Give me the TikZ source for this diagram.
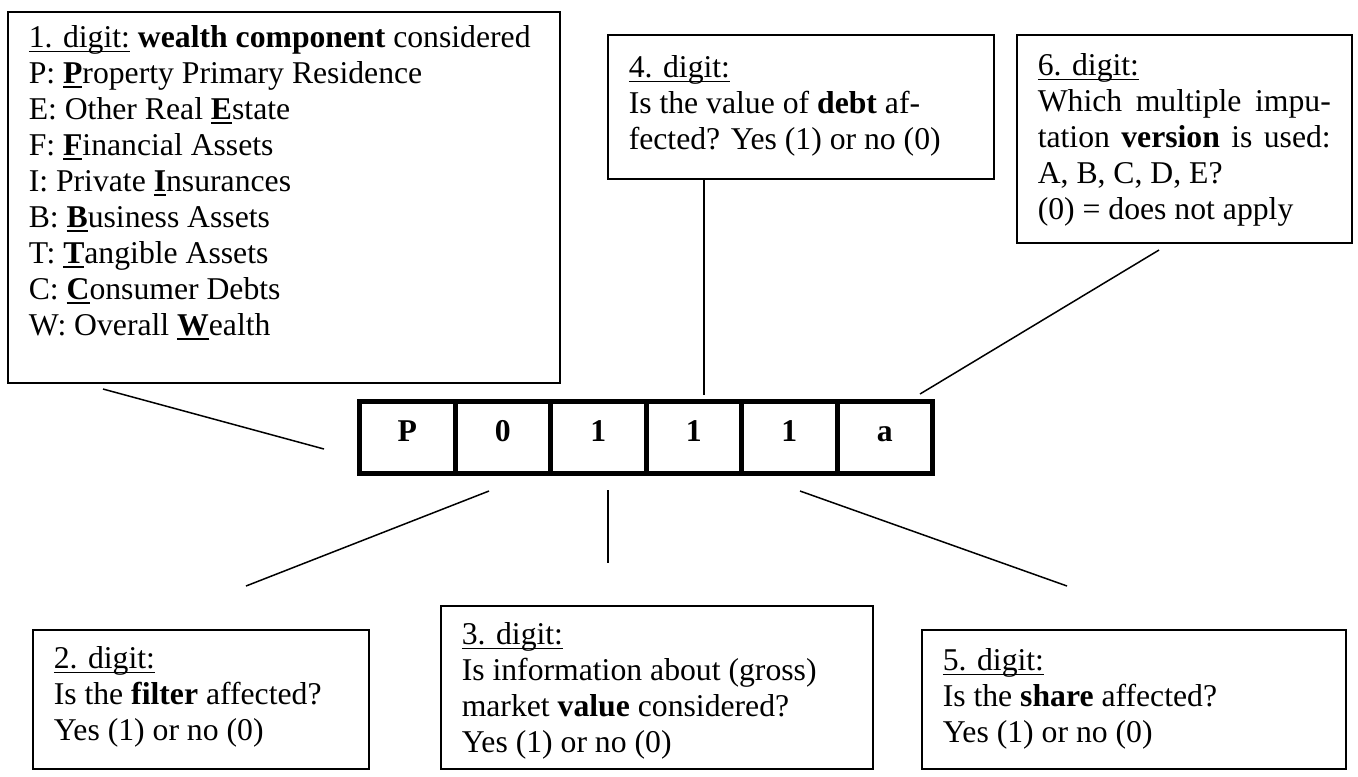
\documentclass[tikz,border=0pt]{standalone}
\usepackage{fontspec}
\setmainfont{Liberation Serif}
\usetikzlibrary{positioning}
\newlength{\unitpx}
\setlength{\unitpx}{0.4pt}
% underlined digit label and underlined key letter
\newcommand{\digitul}[1]{\setbox0\hbox{#1}\rlap{\rule[-1.6pt]{\wd0}{0.55pt}}\box0\relax}
\newcommand{\keyul}[1]{\textbf{\setbox0\hbox{#1}\rlap{\rule[-1.8pt]{\wd0}{1.1pt}}\box0\relax}}
\newcommand{\boxtext}[4][0]{\parbox[t][#3\unitpx][t]{#2\unitpx}{\vspace*{#1\unitpx}\strut#4}}

\begin{document}
\begin{tikzpicture}[
    x=0.4pt, y=-0.4pt,
    every node/.style={font=\fontsize{12.68pt}{14.4pt}\selectfont},
    digitbox/.style={draw, line width=0.6pt, anchor=north west,
      inner xsep=8.4pt, inner ysep=4pt},
    codecell/.style={draw, line width=2pt, outer sep=0pt, inner sep=0pt,
      minimum width=38.2pt, minimum height=28.8pt,
      text height=8.5pt, text depth=5.6pt,
      font=\fontsize{12.68pt}{14.4pt}\selectfont\bfseries},
    link/.style={line width=0.6pt},
  ]
  \useasboundingbox (0,0) rectangle (1358,776);

  % Upper boxes
  \node[digitbox] (d1) at (7,11) {\boxtext[1]{510}{351}{%
      \digitul{1. digit:} \textbf{wealth component} considered\\
      P: \keyul{P}roperty Primary Residence\\
      E: Other Real \keyul{E}state\\
      F: \keyul{F}inancial Assets\\
      I: Private \keyul{I}nsurances\\
      B: \keyul{B}usiness Assets\\
      T: \keyul{T}angible Assets\\
      C: \keyul{C}onsumer Debts\\
      W: Overall \keyul{W}ealth}};
  \node[digitbox] (d4) at (607,34) {\boxtext[8]{344}{124}{%
      \digitul{4. digit:}\\
      Is the value of \textbf{debt} af-\\
      fected? Yes (1) or no (0)}};
  \node[digitbox] (d6) at (1016,34) {\boxtext[6]{293}{188}{%
      \digitul{6. digit:}\\
      \makebox[\linewidth][s]{Which multiple impu-}\\
      \makebox[\linewidth][s]{tation \textbf{version} is used:}\\
      A, B, C, D, E?\\
      (0) = does not apply}};

  % Code
  \node[codecell] (c1) at (407.25,437.5) {P};
  \node[codecell, right=0pt of c1] (c2) {0};
  \node[codecell, right=0pt of c2] (c3) {1};
  \node[codecell, right=0pt of c3] (c4) {1};
  \node[codecell, right=0pt of c4] (c5) {1};
  \node[codecell, right=0pt of c5] (c6) {a};

  % Lower boxes
  \node[digitbox] (d2) at (32,629) {\boxtext[4]{294}{119}{%
      \digitul{2. digit:}\\
      Is the \textbf{filter} affected?\\
      Yes (1) or no (0)}};
  \node[digitbox] (d3) at (440,605) {\boxtext[4]{390}{143}{%
      \digitul{3. digit:}\\
      Is information about (gross)\\
      market \textbf{value} considered?\\
      Yes (1) or no (0)}};
  \node[digitbox] (d5) at (921,629) {\boxtext[6]{382}{119}{%
      \digitul{5. digit:}\\
      Is the \textbf{share} affected?\\
      Yes (1) or no (0)}};

  % Links
  \coordinate (k1a) at (103,389);
  \coordinate (k1b) at (324,449);
  \coordinate (k2a) at (489,491);
  \coordinate (k2b) at (246,586);
  \coordinate (k3a) at (608,490);
  \coordinate (k3b) at (608,563);
  \coordinate (k4b) at (704,395);
  \coordinate (k5a) at (800,491);
  \coordinate (k5b) at (1067,586);
  \coordinate (k6a) at (1159,250);
  \coordinate (k6b) at (920,394);
  \draw[link] (k1a) -- (k1b);
  \draw[link] (k2a) -- (k2b);
  \draw[link] (k3a) -- (k3b);
  \draw[link] (d4.south -| k4b) -- (k4b);
  \draw[link] (k5a) -- (k5b);
  \draw[link] (k6a) -- (k6b);
\end{tikzpicture}
\end{document}
